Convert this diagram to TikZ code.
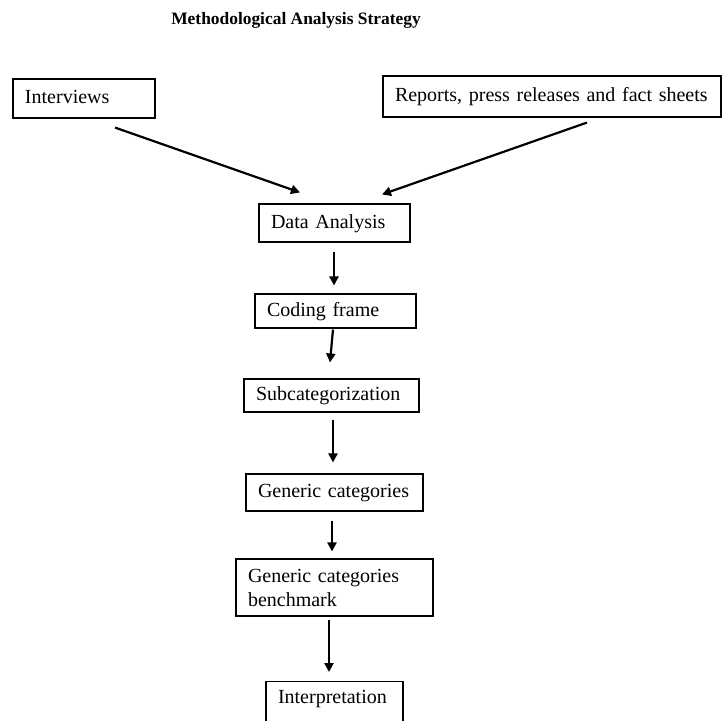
\documentclass[tikz,border=0pt]{standalone}
\usepackage{fontspec}
\setmainfont{Liberation Serif}
\usetikzlibrary{arrows.meta,calc}
\begin{document}
\begin{tikzpicture}[x=0.5pt,y=-0.5pt,
  box/.style={draw,line width=0.55pt,rectangle,align=left,inner xsep=6pt,inner ysep=0pt,
    font=\fontsize{10}{12}\selectfont,text height=7pt,text depth=2pt},
  flow/.style={line width=1.1pt,-{Triangle[length=4.5pt,width=4.5pt]}},
  heading/.style={font=\fontsize{8.7}{10}\selectfont\bfseries}]
\clip (0,0) rectangle (728,720);
\useasboundingbox (0,0) rectangle (728,720);

% title
\node[heading] (title) at (296,20) {Methodological Analysis Strategy};

% sources
\node[box,text width=59pt,minimum height=19.5pt] (int) at (84,98.5) {Interviews};
\node[box,text width=157pt,minimum height=20.5pt] (rep) at (552,96.5) {Reports, press releases and fact sheets};

% analysis chain
\node[box,text width=63.5pt,minimum height=19pt] (da) at (334.5,223) {Data Analysis};
\node[box,text width=68.5pt,minimum height=17pt] (cf) at (335.5,311) {Coding frame};
\node[box,text width=75.5pt,minimum height=16.5pt] (sub) at (331.5,395.5) {Subcategorization};
\node[box,text width=76.5pt,minimum height=18.5pt] (gc) at (334.5,492.5) {Generic categories};
\node[box,text width=86.5pt,minimum height=28.5pt,text height=7pt,text depth=12pt] (gcb) at (334.5,587.5) {Generic categories\\benchmark};
\node[box,text width=56.5pt,anchor=north,inner ysep=4pt,text height=7pt,text depth=8pt] (intp) at (334.5,681) {Interpretation};

% connectors
\draw[flow] ($(int.south)+(31,9)$) -- ($(da.north)+(-34.5,-11)$);
\draw[flow] ($(rep.south)+(35,5)$) -- ($(da.north)+(47.5,-9)$);
\draw[flow] ($(da.south)+(-0.5,9)$) -- ($(cf.north)+(-1.5,-8)$);
\draw[flow] ($(cf.south)+(-2.5,1)$) -- ($(sub.north)+(-1.5,-16)$);
\draw[flow] ($(sub.south)+(1.5,7)$) -- ($(gc.north)+(-1.5,-11)$);
\draw[flow] ($(gc.south)+(-2.5,9)$) -- ($(gcb.north)+(-2.5,-7)$);
\draw[flow] ($(gcb.south)+(-5.5,3)$) -- ($(intp.north)+(-5.5,-9)$);
\end{tikzpicture}
\end{document}
